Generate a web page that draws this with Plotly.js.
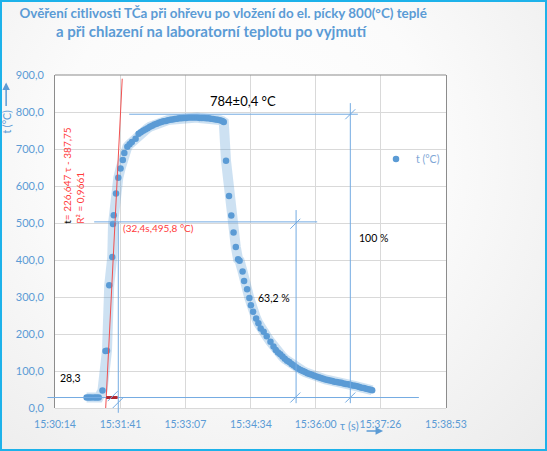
<!DOCTYPE html>
<html><head><meta charset="utf-8">
<script src="https://cdn.plot.ly/plotly-3.0.1.min.js"></script>
<style>
html,body{margin:0;padding:0;background:#fff;}
#wrap{position:relative;width:547px;height:451px;background:radial-gradient(ellipse at 45% 35%, #ffffff 0%, #fbfbfb 45%, #ebebeb 100%);}
#frame{position:absolute;left:0;top:0;width:543px;height:447px;border:2px solid #1db2ea;pointer-events:none;}
</style></head><body>
<div id="wrap"><div id="chart"></div><div id="frame"></div></div>
<script>
// ---- data ----
// time: seconds after 15:30:00, temperature in °C
const timeSec = [56,59,62,66,69,72,
  77,81,83,86,90,91,92,95,98,101,104,106,110,113,116,121,125,
  128,131,134,137,140,143,146,149,152,155,158,161,164,167,170,173,176,179,182,185,188,191,194,197,200,203,206,209,212,215,218,221,224,227,230,233,236,238,
  241,245,248,251,254,257,259,263,265,269,272,274,277,281,284,287,291,295,300,304,
  307,310,313,316,319,322,325,328,331,334,337,340,343,346,349,352,355,358,361,364,367,370,373,376,379,382,385,388,391,394,397,400,403,406,409,412,415,418,421,424,427,430,433,435];
const tempC = [28.3,28.3,28.2,28.3,28.4,28.3,
  47,154,155,332,408,497,521,580,622,647,670,689,706,713,719,728,741,
  745,749,753,756,760,763,766,768,771,773,775,776,778,779,780,781,782,783,783,784,784,785,785,785,785,785,784,784,784,783,783,782,781,780,779,778,776,773,
  668,573,520,474,435,402,398,369,343,321,297,278,260,242,229,215,206,194,179,166,
  157,150,145,139,133,128,124,119,115,110,106,103,100,97,94,92,90,87,85,83,81,79,77,76,74,73,71,70,69,68,66,65,64,63,61,60,59,57,55,54,52,51,49,48];
const xTickLabels = ['15:30:14','15:31:41','15:33:07','15:34:34','15:36:00','15:37:26','15:38:53'];
const yTickValues = [0,100,200,300,400,500,600,700,800,900];
const titleLines = ['Ověření citlivosti TČa při ohřevu po vložení do el. pícky 800(°C) teplé',
                    'a při chlazení na laboratorní teplotu po vyjmutí'];

// evaluation values shown on the chart
const baseTemp = 28.3;        // initial temperature
const steadyLineTemp = 794;   // level of the 100 % guide line
const level63Temp = 503;      // 63,2 % level
const heat63Time = 98;        // s after 15:30:00
const trendSlope = 40.6;      // °C per s (drawn tangent)
const trendZeroTime = 81.3;   // s after 15:30:00 where tangent crosses 0 °C
const trendTemps = [-13, 890];
const cool63Time = 334;
const cool100Time = 406;

// ---- helpers ----
const toSec = s => { const p = s.split(':').map(Number); return p[0]*3600+p[1]*60+p[2] - (15*3600+30*60); };
const xTickVals = xTickLabels.map(toSec);
const xMin = xTickVals[0], xMax = xTickVals[xTickVals.length-1];
const yMin = yTickValues[0], yMax = yTickValues[yTickValues.length-1];
const px = t => (t - xMin)/(xMax - xMin);
const py = T => (T - yMin)/(yMax - yMin);

const blue = '#5B9BD5';
const guide = '#74abe2';
const FONT = "Lato, 'Open Sans', sans-serif";

const traces = [
  {x: timeSec, y: tempC, mode:'lines', line:{color:'rgba(91,155,213,0.3)', width:10}, showlegend:false, hoverinfo:'skip'},
  {x: timeSec, y: tempC, mode:'markers', name:'t (°C)', marker:{color:blue, size:6.5}},
  {x: trendTemps.map(T => trendZeroTime + T/trendSlope), y: trendTemps, mode:'lines',
   line:{color:'#f05050', width:1}, showlegend:false, hoverinfo:'skip'}
];

function hline(t0, t1, T, color, w){ return {type:'line', xref:'paper', yref:'paper', x0:px(t0), x1:px(t1), y0:py(T), y1:py(T), line:{color:color||guide, width:w||1}}; }
function vline(t, T0, T1){ return {type:'line', xref:'paper', yref:'paper', x0:px(t), x1:px(t), y0:py(T0), y1:py(T1), line:{color:guide, width:1}}; }
function slash(t, T){ return {type:'line', xref:'paper', yref:'paper', xsizemode:'pixel', ysizemode:'pixel', xanchor:px(t), yanchor:py(T), x0:-5, x1:5, y0:-5, y1:5, line:{color:guide, width:1}}; }

const shapes = [
  {type:'line', xref:'paper', yref:'paper', x0:0, x1:1, y0:1, y1:1, line:{color:'#8c8c8c', width:1}},
  hline(4, 497, baseTemp),
  hline(66, 362, level63Temp),
  hline(112.5, 416, steadyLineTemp),
  vline(heat63Time, level63Temp, -13),
  vline(cool63Time, 535, 13),
  vline(cool100Time, 824, 13),
  hline(trendZeroTime + baseTemp/trendSlope, heat63Time - 1, baseTemp, '#b3262e', 3),
  slash(90.6, 32), slash(97.3, 13.5),
  slash(cool63Time - 1, level63Temp - 5), slash(cool63Time - 1, baseTemp),
  slash(cool100Time, steadyLineTemp), slash(cool100Time, baseTemp)
];

const annotations = [
  {xref:'paper', yref:'paper', x:0.4015, y:1.132, xanchor:'center', yanchor:'middle', text:titleLines[1], showarrow:false,
   font:{family:FONT, size:15, color:blue, weight:'bold'}},
  {xref:'x', yref:'y', x:263.7, y:829.7, text:'784±0,4 °C', showarrow:false, font:{family:FONT, size:13, color:'#000'}},
  {xref:'x', yref:'y', x:102, y:487, xanchor:'left', text:'(32,4s,495,8 °C)', showarrow:false, font:{family:FONT, size:10, color:'#ff3b3b'}},
  {xref:'x', yref:'y', x:18.4, y:82, xanchor:'left', text:'28,3', showarrow:false, font:{family:FONT, size:10.5, color:'#000'}},
  {xref:'x', yref:'y', x:414.8, y:459.5, xanchor:'left', text:'100 %', showarrow:false, font:{family:FONT, size:10.5, color:'#000'}},
  {xref:'x', yref:'y', x:280.5, y:297.3, xanchor:'left', text:'63,2 %', showarrow:false, font:{family:FONT, size:10.5, color:'#000'}},
  {xref:'x', yref:'y', x:38.3, y:492, xanchor:'center', yanchor:'bottom', textangle:-90, align:'left', showarrow:false,
   text:'<span style="color:#000">t</span>= 226,647 τ - 387,75<br>R² = 0,9661', font:{family:FONT, size:10, color:'#ff3b3b'}},
  {xref:'paper', yref:'paper', x:-0.1228, y:0.860, xanchor:'center', yanchor:'middle', textangle:-90, text:'t (°C)', showarrow:false, font:{family:FONT, size:10.5, color:blue}},
  {xref:'paper', yref:'paper', x:-0.125, y:py(880), ax:0, ay:25, axref:'pixel', ayref:'pixel', text:'', showarrow:true, arrowhead:2, arrowsize:1, arrowwidth:1.5, arrowcolor:blue},
  {xref:'paper', yref:'paper', x:0.753, y:-0.0526, xanchor:'center', yanchor:'middle', text:'τ (s)', showarrow:false, font:{family:FONT, size:11, color:blue}},
  {xref:'paper', yref:'paper', x:0.839, y:-0.069, ax:-18, ay:0, axref:'pixel', ayref:'pixel', text:'', showarrow:true, arrowhead:2, arrowsize:1, arrowwidth:1.5, arrowcolor:blue}
];

const layout = {
  width:547, height:451,
  margin:{l:55, r:101, t:75, b:43},
  paper_bgcolor:'rgba(0,0,0,0)', plot_bgcolor:'#ffffff',
  separators:', ',
  font:{family:FONT, color:blue},
  title:{text:titleLines[0],
    x:0.408, xanchor:'center', xref:'container', y:0.971, yanchor:'middle', yref:'container',
    font:{family:FONT, size:13.4, color:blue, weight:'bold'}},
  xaxis:{range:[xMin, xMax], tickvals:xTickVals, ticktext:xTickLabels, showgrid:true, gridcolor:'#d9d9d9', zeroline:false,
    showline:false, ticks:'', ticklabelstandoff:8, tickfont:{family:FONT, size:10.5, color:blue}},
  yaxis:{range:[yMin, yMax], tickvals:yTickValues, tickformat:'.1f', showgrid:true, gridcolor:'#d9d9d9',
    zeroline:true, zerolinecolor:'#d9d9d9', zerolinewidth:1,
    showline:true, mirror:true, linecolor:'#8c8c8c', linewidth:1, ticks:'', ticklabelstandoff:8,
    tickfont:{family:FONT, size:11, color:blue}},
  legend:{x:0.821, xanchor:'left', y:0.748, yanchor:'middle', bgcolor:'rgba(0,0,0,0)', font:{family:FONT, size:10.5, color:'#7ea6d6'}},
  shapes:shapes, annotations:annotations,
  showlegend:true
};

Plotly.newPlot('chart', traces, layout, {staticPlot:true, displayModeBar:false});
</script>
</body></html>
